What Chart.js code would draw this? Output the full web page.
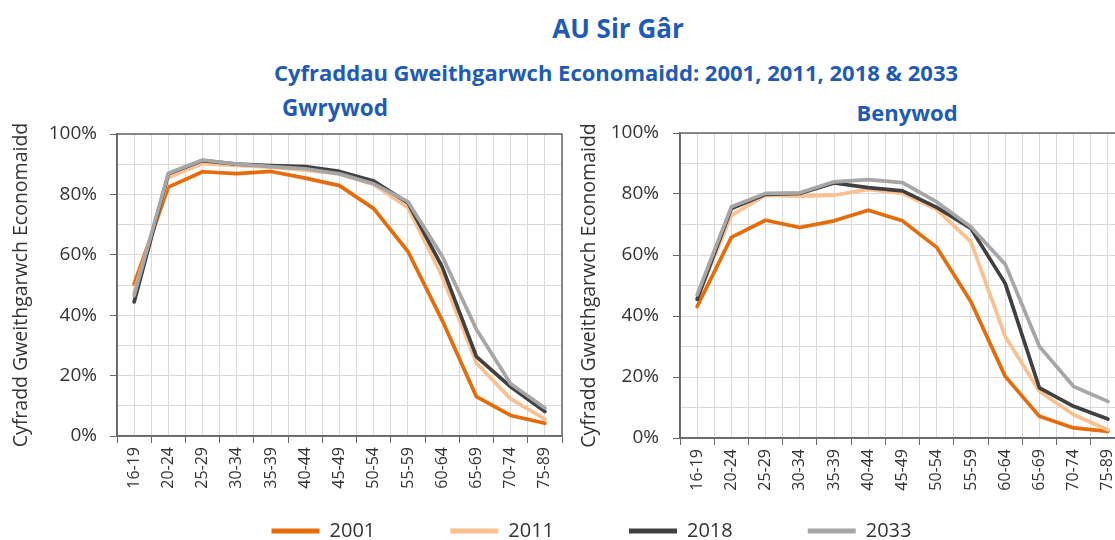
<!DOCTYPE html>
<html>
<head>
<meta charset="utf-8">
<script src="https://cdn.jsdelivr.net/npm/chart.js@4.4.0/dist/chart.umd.min.js"></script>
<style>
  html, body { margin: 0; padding: 0; width: 1115px; height: 540px; overflow: hidden; background: #fff; font-family: 'Open Sans', sans-serif; }
  .ttl { position: absolute; color: #1F5BB5; font-weight: bold; white-space: nowrap; transform: translate(-50%, -50%); }
  .box { position: absolute; }
</style>
</head>
<body>
<div class="ttl" style="left:618px; top:28px; font-size:26px">AU Sir Gâr</div>
<div class="ttl" style="left:616px; top:72px; font-size:22px">Cyfraddau Gweithgarwch Economaidd: 2001, 2011, 2018 &amp; 2033</div>
<div class="ttl" style="left:335px; top:107px; font-size:22.5px">Gwrywod</div>
<div class="ttl" style="left:907px; top:112px; font-size:22px">Benywod</div>

<div class="box" style="left:0; top:120px; width:570px; height:390px"><canvas id="male"></canvas></div>
<div class="box" style="left:568px; top:120px; width:562px; height:390px"><canvas id="female"></canvas></div>
<div class="box" style="left:34px; top:446px; width:1115px; height:220px"><canvas id="legend"></canvas></div>

<script>
// ── Data (percent economically active) ───────────────────────────────────────
const ageGroups = ['16-19', '20-24', '25-29', '30-34', '35-39', '40-44', '45-49',
                   '50-54', '55-59', '60-64', '65-69', '70-74', '75-89'];
const years  = ['2001', '2011', '2018', '2033'];
const colors = ['#E46C0A', '#FAC090', '#404040', '#A6A6A6'];

// Gwrywod (males)
const male2001 = [50.3, 82.4, 87.5, 86.9, 87.6, 85.4, 82.9, 75.3, 61.1, 38.3, 13.0, 6.8, 4.2];
const male2011 = [47.5, 85.6, 90.2, 89.6, 89.0, 88.0, 86.8, 83.3, 75.6, 52.8, 24.2, 12.3, 5.6];
const male2018 = [44.4, 86.8, 91.2, 90.0, 89.5, 89.2, 87.6, 84.4, 77.2, 56.0, 26.3, 16.3, 8.1];
const male2033 = [46.5, 87.0, 91.4, 90.0, 89.2, 88.5, 86.8, 83.5, 77.6, 59.5, 35.3, 17.3, 9.3];

// Benywod (females)
const female2001 = [43.1, 65.8, 71.4, 69.0, 71.2, 74.7, 71.2, 62.5, 44.7, 20.2, 7.1, 3.3, 2.2];
const female2011 = [45.8, 73.0, 79.6, 79.3, 79.6, 81.5, 80.2, 74.9, 64.3, 33.3, 15.3, 7.6, 2.7];
const female2018 = [45.5, 75.2, 79.9, 80.2, 83.6, 82.1, 81.0, 75.6, 68.7, 50.7, 16.4, 10.4, 6.2];
const female2033 = [46.9, 75.8, 80.2, 80.4, 84.0, 84.7, 83.7, 77.4, 69.2, 57.0, 30.0, 16.9, 12.0];

const yTitle = 'Cyfradd Gweithgarwch Economaidd';

// ── Styling ──────────────────────────────────────────────────────────────────
const FONT = "'Open Sans', sans-serif";
const TXT  = '#333333';
const GRID = '#D9D9D9';
const AXIS = '#666666';
Chart.defaults.font.family = FONT;
Chart.defaults.color = TXT;

// plot-area box border (top + right edges like the Excel frame)
const frame = {
  id: 'frame',
  beforeDatasetsDraw(chart) {
    const { ctx, chartArea: a } = chart;
    ctx.save();
    ctx.strokeStyle = AXIS;
    ctx.lineWidth = 1.5;
    ctx.strokeRect(a.left, a.top, a.right - a.left, a.bottom - a.top);
    ctx.restore();
  }
};

function makePanel(id, series, g) {
  return new Chart(document.getElementById(id), {
    type: 'line',
    data: {
      labels: ageGroups,
      datasets: series.map((d, i) => ({
        label: years[i], data: d,
        borderColor: colors[i], backgroundColor: colors[i],
        borderWidth: 3.7, pointRadius: 0, tension: 0,
        borderJoinStyle: 'round', borderCapStyle: 'round',
        order: series.length - i
      }))
    },
    options: {
      responsive: true, maintainAspectRatio: false, animation: false,
      layout: { padding: { top: g.top, right: g.right, left: 0, bottom: 0 } },
      plugins: { legend: { display: false }, tooltip: { enabled: false } },
      scales: {
        x: {
          offset: true,
          grid: { offset: true, color: GRID, tickLength: 7, tickColor: AXIS },
          border: { color: AXIS, width: 1.5 },
          ticks: { autoSkip: false, maxRotation: 90, minRotation: 90, padding: 4, color: TXT, font: { size: 16 } },
          afterFit: s => { s.height = g.xh; s.paddingLeft = 0; s.paddingRight = 0; }
        },
        xc: {
          offset: true, position: 'bottom',
          grid: { offset: false, color: GRID, drawTicks: false },
          border: { display: false },
          ticks: { display: false },
          afterFit: s => { s.height = 0; s.paddingLeft = 0; s.paddingRight = 0; }
        },
        y: {
          min: 0, max: 100,
          ticks: { stepSize: 10, padding: g.tp, color: TXT, font: { size: 19 },
                   callback: v => v % 20 === 0 ? v + '%' : '' },
          grid: { color: GRID, tickLength: 7, tickColor: c => c.tick && c.tick.value % 20 === 0 ? AXIS : 'rgba(0,0,0,0)' },
          border: { color: AXIS, width: 1.5 },
          title: { display: true, text: yTitle, color: TXT, font: { size: 19.5 }, padding: { top: g.tt, bottom: 0 } },
          afterFit: s => { s.width = g.yw; s.paddingTop = 0; s.paddingBottom = 0; }
        }
      }
    },
    plugins: [frame]
  });
}

makePanel('male',   [male2001, male2011, male2018, male2033],
          { top: 14, right: 8, xh: 74, yw: 117, tp: 13, tt: 10 });
makePanel('female', [female2001, female2011, female2018, female2033],
          { top: 13, right: 5, xh: 72, yw: 112, tp: 14, tt: 10 });

// ── Shared legend ────────────────────────────────────────────────────────────
new Chart(document.getElementById('legend'), {
  type: 'line',
  data: {
    labels: [],
    datasets: years.map((y, i) => ({ label: y, data: [], borderColor: colors[i], backgroundColor: colors[i], borderWidth: 0 }))
  },
  options: {
    responsive: true, maintainAspectRatio: false, animation: false,
    layout: { padding: 0 },
    scales: { x: { display: false }, y: { display: false } },
    plugins: {
      tooltip: { enabled: false },
      legend: { position: 'top', labels: { boxWidth: 48, boxHeight: 5, padding: 75, color: TXT, font: { size: 20 } } }
    }
  }
});
</script>
</body>
</html>
